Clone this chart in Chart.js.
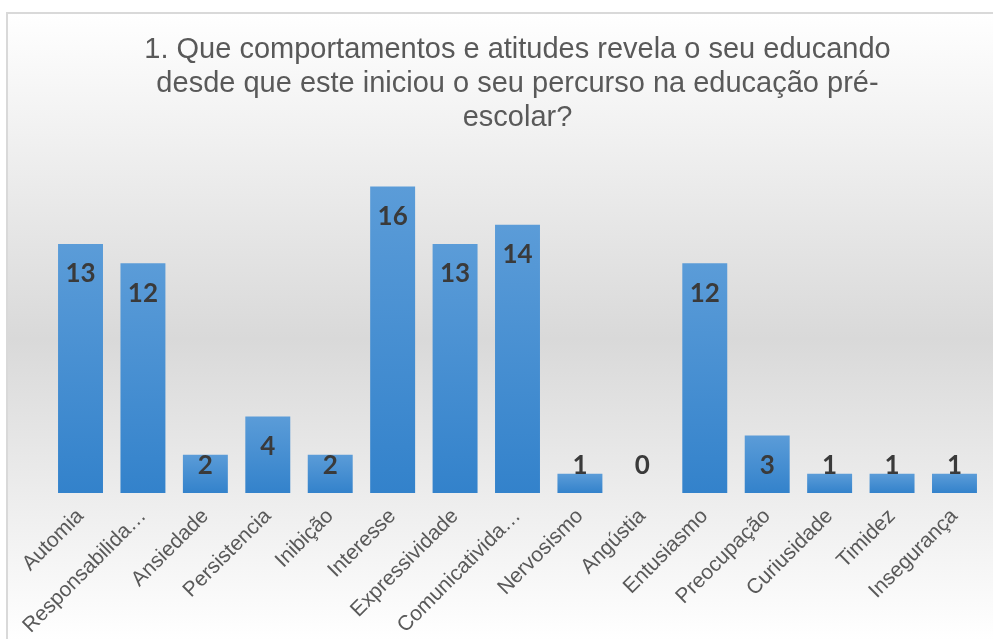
<!DOCTYPE html>
<html>
<head>
<meta charset="utf-8">
<script src="https://cdn.jsdelivr.net/npm/chart.js@4.4.1/dist/chart.umd.min.js"></script>
<style>
  html, body { margin: 0; padding: 0; background: #ffffff; }
  #wrap { width: 993px; height: 639px; position: relative; }
</style>
</head>
<body>
<div id="wrap"><canvas id="c" width="993" height="639"></canvas></div>
<script>
const titleLines = [
  "1. Que comportamentos e atitudes revela o seu educando",
  "desde que este iniciou o seu percurso na educação pré-",
  "escolar?"
];
const categories = [
  "Automia", "Responsabilida…", "Ansiedade", "Persistencia", "Inibição",
  "Interesse", "Expressividade", "Comunicativida…", "Nervosismo", "Angústia",
  "Entusiasmo", "Preocupação", "Curiusidade", "Timidez", "Insegurança"
];
const values = [13, 12, 2, 4, 2, 16, 13, 14, 1, 0, 12, 3, 1, 1, 1];
const yMin = 0;
const yMax = 18;

const bgPlugin = {
  id: 'bgFrame',
  beforeDraw(chart) {
    const ctx = chart.ctx;
    const w = chart.width, h = chart.height;
    ctx.save();
    ctx.fillStyle = '#ffffff';
    ctx.fillRect(0, 0, w, h);
    const g = ctx.createLinearGradient(0, 13, 0, 640);
    g.addColorStop(0, '#ffffff');
    g.addColorStop(0.52, '#d9d9d9');
    g.addColorStop(1, '#ffffff');
    ctx.fillStyle = g;
    ctx.fillRect(7, 13, w, h);
    ctx.strokeStyle = '#d9d9d9';
    ctx.lineWidth = 2;
    ctx.beginPath();
    ctx.moveTo(7, h + 5);
    ctx.lineTo(7, 13);
    ctx.lineTo(w + 5, 13);
    ctx.stroke();
    ctx.restore();
  }
};

const labelPlugin = {
  id: 'valueLabels',
  afterDatasetsDraw(chart) {
    const ctx = chart.ctx;
    const meta = chart.getDatasetMeta(0);
    ctx.save();
    ctx.font = 'bold 26px Lato, "Noto Sans", sans-serif';
    ctx.fillStyle = '#3a3a3a';
    ctx.textAlign = 'center';
    ctx.textBaseline = 'middle';
    meta.data.forEach((el, i) => {
      const cy = Math.min(el.y + 30, el.base - 27);
      ctx.fillText(String(values[i]), el.x, cy);
    });
    ctx.restore();
  }
};

function barGradient(context) {
  const chart = context.chart;
  const area = chart.chartArea;
  if (!area || context.type !== 'data') return '#4a8fd2';
  const ys = chart.scales.y;
  const v = context.raw;
  const top = ys.getPixelForValue(v);
  const base = ys.getPixelForValue(0);
  if (!isFinite(top) || !isFinite(base) || Math.abs(base - top) < 1) return '#4a8fd2';
  const g = chart.ctx.createLinearGradient(0, top, 0, base);
  g.addColorStop(0, '#5b9cd8');
  g.addColorStop(1, '#3382cb');
  return g;
}

new Chart(document.getElementById('c'), {
  type: 'bar',
  data: {
    labels: categories,
    datasets: [{
      data: values,
      backgroundColor: barGradient,
      borderWidth: 0,
      barPercentage: 0.9,
      categoryPercentage: 0.8
    }]
  },
  options: {
    responsive: false,
    animation: false,
    devicePixelRatio: 1,
    layout: { padding: { left: 49.3, right: 7.3, top: 0, bottom: 0 } },
    plugins: {
      legend: { display: false },
      tooltip: { enabled: false },
      title: {
        display: true,
        text: titleLines,
        color: '#595959',
        font: { family: '"Liberation Sans", Arial, sans-serif', size: 29, weight: 'normal', lineHeight: 1.17 },
        padding: { top: 33, bottom: 13.4 }
      }
    },
    scales: {
      x: {
        grid: { display: false, drawTicks: false },
        border: { display: false },
        ticks: {
          color: '#595959',
          font: { family: '"Liberation Sans", Arial, sans-serif', size: 21 },
          minRotation: 45,
          maxRotation: 45,
          autoSkip: false,
          padding: 11
        },
        afterFit(scale) { scale.height = 146; }
      },
      y: {
        display: false,
        min: yMin,
        max: yMax
      }
    }
  },
  plugins: [bgPlugin, labelPlugin]
});
</script>
</body>
</html>
